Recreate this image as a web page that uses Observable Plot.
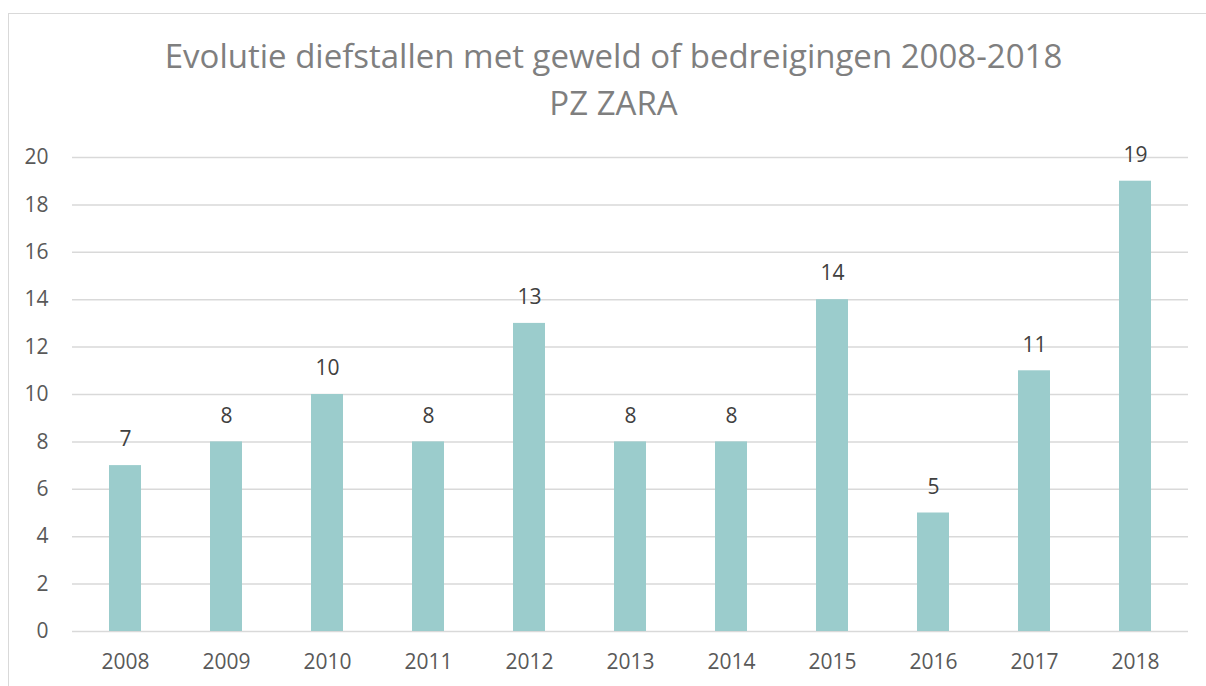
<!DOCTYPE html>
<html>
<head>
<meta charset="utf-8">
<script src="https://cdn.jsdelivr.net/npm/d3@7"></script>
<script src="https://cdn.jsdelivr.net/npm/@observablehq/plot@0.6"></script>
<style>
  html, body { margin: 0; padding: 0; background: #fff; }
  #wrap { position: relative; width: 1206px; height: 686px; overflow: hidden; font-family: "Open Sans", "Liberation Sans", sans-serif; }
  #frame { position: absolute; left: 8px; top: 13px; width: 1210px; height: 700px; border: 1px solid #d9d9d9; box-sizing: border-box; }
  .title { position: absolute; left: 0; text-align: center; color: #7f7f7f; font-size: 33px; line-height: 33px; white-space: nowrap; font-family: "Open Sans", sans-serif; }
  #t1 { top: 39px; width: 1227px; }
  #t2 { top: 86px; width: 1227px; }
  #chart { position: absolute; left: 0; top: 0; }
</style>
</head>
<body>
<div id="wrap">
  <div id="frame"></div>
  <div id="chart"></div>
  <div class="title" id="t1">Evolutie diefstallen met geweld of bedreigingen 2008-2018</div>
  <div class="title" id="t2">PZ ZARA</div>
</div>
<script>
const years = ["2008","2009","2010","2011","2012","2013","2014","2015","2016","2017","2018"];
const counts = [7, 8, 10, 8, 13, 8, 8, 14, 5, 11, 19];
const yTicks = [0, 2, 4, 6, 8, 10, 12, 14, 16, 18, 20];

const data = years.map((y, i) => ({year: y, value: counts[i]}));

const chart = Plot.plot({
  width: 1206,
  height: 686,
  marginLeft: 72,
  marginRight: 18,
  marginTop: 157,
  marginBottom: 55,
  style: {fontFamily: "'Open Sans', sans-serif", fontSize: "21px", color: "#595959", background: "transparent"},
  x: {domain: years, paddingInner: 0.685, paddingOuter: 0.3425, label: null, tickSize: 0, tickPadding: 23},
  y: {domain: [0, 20], ticks: yTicks, label: null, tickSize: 0, tickPadding: 24},
  marks: [
    Plot.gridY(yTicks, {stroke: "#d9d9d9", strokeOpacity: 1, strokeWidth: 1.5}),
    Plot.barY(data, {x: "year", y: "value", fill: "#9bcccc"}),
    Plot.text(data, {x: "year", y: "value", text: d => String(d.value), dy: -26, fill: "#404040", fontSize: 21})
  ]
});
document.getElementById("chart").appendChild(chart);
</script>
</body>
</html>
